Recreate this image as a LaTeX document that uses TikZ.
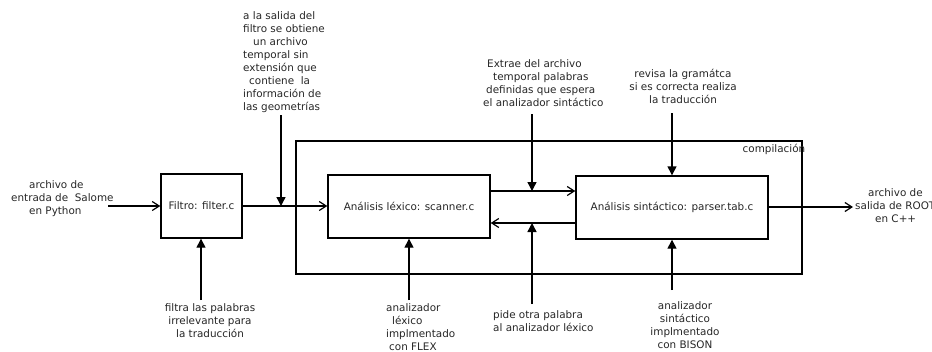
\documentclass[tikz,border=0pt]{standalone}
\usepackage{fontspec}
\setmainfont{DejaVu Sans}
\usetikzlibrary{arrows.meta}
\begin{document}
\begin{tikzpicture}[x=1pt,y=-1pt,
  every node/.style={font=\fontsize{10.4}{13}\selectfont, inner sep=0pt, text=black!85},
  blk/.style={draw, line width=1.4pt},
  lbl/.style={align=left},
  clbl/.style={align=center},
  openarr/.style={line width=1.4pt, -{Straight Barb[length=7pt,width=9pt,line width=1.2pt]}},
  fillarr/.style={line width=1.4pt, -{Triangle[length=9pt,width=9pt]}},
  plain/.style={line width=1.4pt}
]
\useasboundingbox (0,0) rectangle (932,351);

% outer compilation box
\node[blk, minimum width=506pt, minimum height=133pt] (comp) at (549,207.5) {};
\node (complbl) at (774,149) {compilación};

% blocks
\node[blk, minimum width=81pt, minimum height=64pt] (filter) at (201.5,206) {Filtro: filter.c};
\node[blk, minimum width=162pt, minimum height=63pt] (lex) at (409,206.5) {Análisis léxico: scanner.c};
\node[blk, minimum width=192pt, minimum height=63pt] (syn) at (672,207.5) {Análisis sintáctico: parser.tab.c};

% labels
\node[lbl, anchor=north west] (inp) at (11,180) {\hspace*{18pt}archivo de\\entrada de\ \ Salome\\\hspace*{18pt}en Python};
\node[lbl, anchor=north west] (tmp) at (243,11) {a la salida del\\filtro se obtiene\\\hspace*{10pt}un archivo\\temporal sin\\extensión que\\\hspace*{6pt}contiene\ \ la\\información de\\las geometrías};
\node[clbl, anchor=north] (filt) at (210,303) {filtra las palabras\\irrelevante para\\la traducción};
\node[lbl, anchor=north west] (extr) at (483,59) {\hspace*{4pt}Extrae del archivo\\\hspace*{10pt}temporal palabras\\\hspace*{3pt}definidas que espera\\el analizador sintáctico};
\node[clbl, anchor=north] (rev) at (683,69) {revisa la gramátca\\si es correcta realiza\\la traducción};
\node[lbl, anchor=north west] (pide) at (493,310) {pide otra palabra\\al analizador léxico};
\node[lbl, anchor=north west] (flex) at (386,303) {analizador\\\hspace*{6pt}léxico\\implmentado\\\hspace*{3pt}con FLEX};
\node[clbl, anchor=north] (bison) at (685,301) {analizador\\sintáctico\\implmentado\\con BISON};
\node[lbl, anchor=north west] (out) at (855,188) {\hspace*{13pt}archivo de\\salida de ROOT\\\hspace*{20pt}en C++};

% junction points
\coordinate (j1) at (281,206);
\coordinate (j2) at (532,191);
\coordinate (j3) at (532,223);
\coordinate (inS) at (108,206);
\coordinate (outE) at (853,207);

% flow
\draw[openarr] (inS) -- (filter.west);
\draw[plain] (filter.east) -- (j1);
\draw[openarr] (j1) -- (lex.west |- j1);
\draw[openarr] (lex.east |- j2) -- (syn.west |- j2);
\draw[openarr] (syn.west |- j3) -- (lex.east |- j3);
\draw[openarr] (syn.east |- outE) -- (outE);

% annotation arrows
\draw[fillarr] (j1 |- 0,115) -- (j1);
\draw[fillarr] (j2 |- 0,114) -- (j2);
\draw[fillarr] (j3 |- 0,304) -- (j3);
\draw[fillarr] (201,300) -- (filter.south -| 201,0);
\draw[fillarr] (409,300) -- (lex.south);
\draw[fillarr] (672,113) -- (syn.north);
\draw[fillarr] (672,290) -- (syn.south);
\end{tikzpicture}
\end{document}
